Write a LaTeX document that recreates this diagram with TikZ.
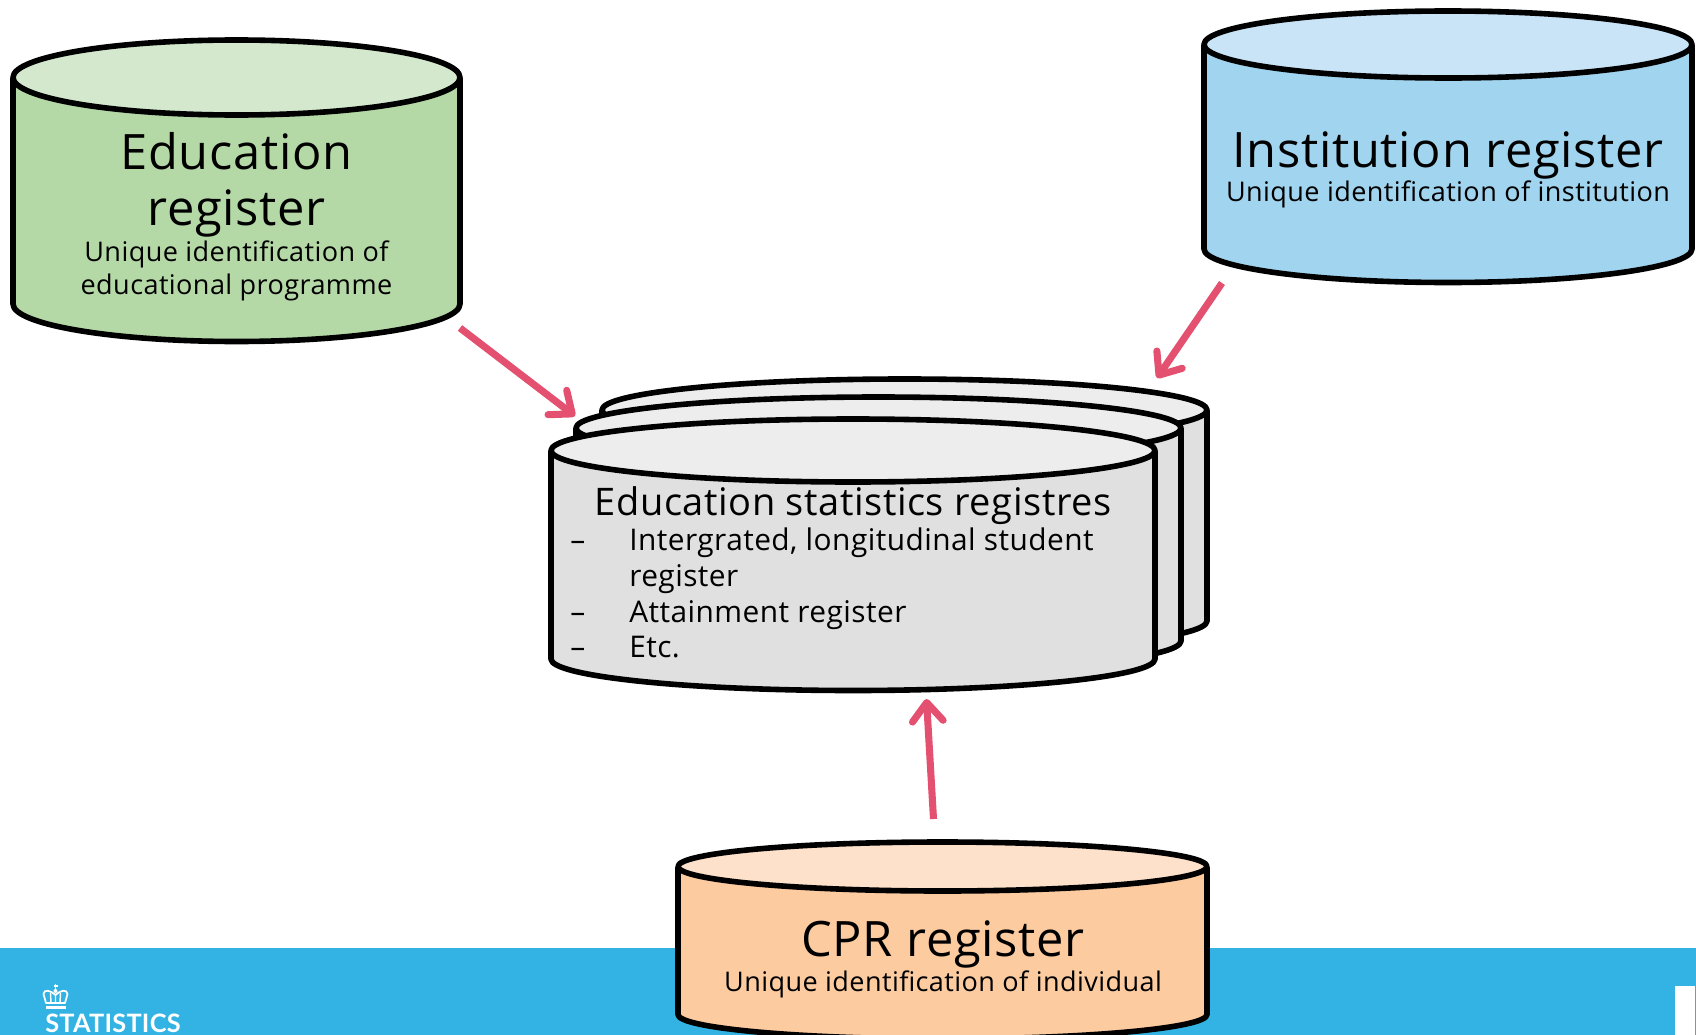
\documentclass[tikz,border=0pt]{standalone}
\usepackage{fontspec}
\setmainfont{Open Sans}[LetterSpace=1.5]
\newfontfamily\logofont{Lato}[LetterSpace=1]
\usetikzlibrary{arrows.meta}
\definecolor{band}{HTML}{32B3E3}
\definecolor{arr}{HTML}{E4506F}
\definecolor{gb}{HTML}{B5D9A6}\definecolor{gt}{HTML}{D3E8CC}
\definecolor{bb}{HTML}{A1D4EE}\definecolor{bt}{HTML}{C9E4F7}
\definecolor{ob}{HTML}{FCCBA0}\definecolor{ot}{HTML}{FDE1CA}
\definecolor{yb}{HTML}{E0E0E0}\definecolor{yt}{HTML}{EDEDED}
\tikzset{
 cylline/.style={draw=black,line width=4.2pt,line join=round},
 conn/.style={draw=arr,line width=5.3pt,-{Straight Barb[length=14pt,width=23pt,line width=5.3pt,round]}},
 big/.style={font=\fontsize{36.6}{42}\selectfont,align=center,inner sep=0pt},
 small/.style={font=\fontsize{20.3}{24.5}\selectfont,align=center,inner sep=0pt},
 reg/.style={font=\fontsize{22.4}{27}\selectfont,inner sep=0pt,anchor=base west},
 box/.style={inner sep=0pt,minimum width=0pt},
}
% name, x1, x2, top, ry, bottom, body colour, top colour
\newcommand{\cyl}[8]{%
 \pgfmathsetmacro{\cx}{(#2+#3)/2}\pgfmathsetmacro{\rx}{(#3-#2)/2}
 \pgfmathsetmacro{\cy}{#4+#5}\pgfmathsetmacro{\sy}{#6-#5}
 \path[fill=#7,cylline] (#2,\cy) -- (#2,\sy) .. controls (#2,{\sy+#5*.55}) and ({\cx-\rx*.55},#6) .. (\cx,#6)
   .. controls ({\cx+\rx*.55},#6) and (#3,{\sy+#5*.55}) .. (#3,\sy) -- (#3,\cy);
 \path[fill=#8,cylline] (\cx,\cy) ellipse [x radius=\rx,y radius=#5];
 \node[box,minimum width={(#3-#2)*.75pt},minimum height={(#6-#4)*.75pt}] (#1) at (\cx,{(#4+#6)/2}) {};
}
\begin{document}
\begin{tikzpicture}[x=0.75pt,y=-0.75pt]
\useasboundingbox (0,0) rectangle (1696,1035);
\fill[white] (0,0) rectangle (1696,1035);
\fill[band] (0,948) rectangle (1696,1035);
\fill[white] (1675,986) rectangle (1695,1035);
% crown logo
\begin{scope}[white]
 \fill (45.5,1005.5) rectangle (65.5,1009);
 \draw[line width=1.3pt,line join=round] (46,1003) -- (43.5,994) .. controls (44,989) and (50,990) .. (55.5,995)
   .. controls (61,990) and (67,989) .. (67.5,994) -- (65,1003) -- cycle;
 \draw[line width=1.1pt] (55.5,995) -- (55.5,1003) (50.5,993) -- (51,1003) (60.5,993) -- (60,1003);
 \fill (55.5,991) circle [radius=2];
 \draw[line width=.8pt] (55.5,984) -- (55.5,990) (53.5,986) -- (57.5,986);
\end{scope}
\node[white,anchor=base west,inner sep=0pt,font=\logofont\fontsize{19}{19}\selectfont\bfseries] (logo) at (45,1032.5) {STATISTICS};
%
\cyl{edu}{13}{460}{40}{37.5}{341.5}{gb}{gt}
\cyl{inst}{1204}{1692}{11}{33.5}{282.5}{bb}{bt}
\cyl{back}{602}{1207}{379}{31}{652}{yb}{yt}
\cyl{mid}{576}{1181}{397}{31}{672}{yb}{yt}
\cyl{front}{551}{1155}{419}{31.5}{690.5}{yb}{yt}
\cyl{cpr}{678}{1207}{842}{24.5}{1039}{ob}{ot}
%
\node[big] (edut) at (236.5,184.5) {Education\\register};
\node[small] (edus) at (236.5,271) {Unique identification of\\educational programme};
\node[big] (instt) at (1448,155.5) {Institution register};
\node[small] (insts) at (1448,194) {Unique identification of institution};
\node[big] (cprt) at (943,944.5) {CPR register};
\node[small] (cprs) at (943,984) {Unique identification of individual};
\node[inner sep=0pt,font=\fontsize{28.5}{30}\selectfont] (frontt) at (853,505.5) {Education statistics registres};
\node[reg] (d1) at (570,550) {–};\node[reg] (l1) at (629,550) {Intergrated, longitudinal student};
\node[reg] (l1b) at (629,586) {register};
\node[reg] (d2) at (570,622) {–};\node[reg] (l2) at (629,622) {Attainment register};
\node[reg] (d3) at (570,657) {–};\node[reg] (l3) at (629,657) {Etc.};
%
\coordinate (a1) at (460,328);\coordinate (a2) at (575,416);
\coordinate (b1) at (1222,283);\coordinate (b2) at (1157,378);
\coordinate (c1) at (933.5,819);\coordinate (c2) at (926.5,699);
\draw[conn] (a1) -- (a2);
\draw[conn] (b1) -- (b2);
\draw[conn] (c1) -- (c2);
\end{tikzpicture}
\end{document}
